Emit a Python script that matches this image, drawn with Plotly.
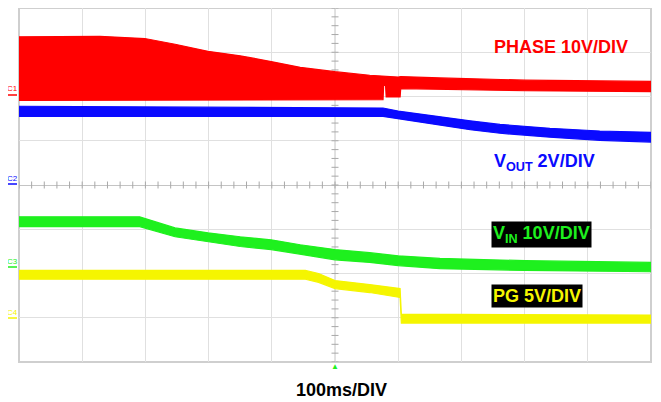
import plotly.graph_objects as go

# time in ms (100 ms/div, 10 div across), amplitude in screen divisions (-4..4)
phase_t_top = [0, 128, 199, 247, 299, 350, 399, 445, 500, 555, 600, 604, 666, 801, 1000]
phase_top = [3.35, 3.36, 3.31, 3.18, 3.02, 2.92, 2.79, 2.66, 2.56, 2.48, 2.44, 2.45, 2.42, 2.37, 2.34]
phase_t_bot = [0, 576, 577, 580, 581, 603, 604, 666, 801, 1000]
phase_bot = [1.91, 1.93, 2.25, 2.25, 1.99, 1.99, 2.18, 2.16, 2.13, 2.11]

vout_t = [0, 540, 576, 600, 634, 666, 714, 761, 840, 919, 1000]
vout_top = [1.78, 1.74, 1.74, 1.67, 1.60, 1.55, 1.45, 1.37, 1.28, 1.22, 1.19]
vout_bot = [1.55, 1.55, 1.55, 1.49, 1.42, 1.35, 1.25, 1.17, 1.08, 1.01, 0.97]

vin_t = [0, 191, 247, 299, 350, 399, 445, 500, 555, 600, 666, 801, 1000]
vin_top = [-0.72, -0.72, -0.97, -1.08, -1.17, -1.24, -1.35, -1.46, -1.53, -1.60, -1.66, -1.71, -1.75]
vin_bot = [-0.94, -0.94, -1.17, -1.28, -1.39, -1.46, -1.56, -1.69, -1.75, -1.82, -1.89, -1.93, -1.96]

pg_t = [0, 453, 474, 500, 555, 603, 605, 1000]
pg_top = [-1.93, -1.93, -2.00, -2.16, -2.25, -2.34, -2.92, -2.94]
pg_bot = [-2.13, -2.13, -2.20, -2.34, -2.43, -2.54, -3.12, -3.12]

RED = '#ff0000'
BLUE = '#0a0aff'
GREEN = '#1ef01e'
YELLOW = '#f5f500'

# the page body adds an 8px offset, so the figure is drawn 8px smaller
# plot area on screen: x 19..651, y 8..362
def px(p):
    return (p - 19) / 632.0

def py(p):
    return (362 - p) / 354.0


def band(t_top, top, t_bot, bot, color, name):
    return go.Scatter(
        x=list(t_top) + list(t_bot)[::-1],
        y=list(top) + list(bot)[::-1],
        fill='toself', fillcolor=color, mode='lines',
        line=dict(color=color, width=1.2), name=name,
        hoverinfo='skip', showlegend=False)


fig = go.Figure()

# minor ticks on the centre cross
fig.add_trace(go.Scatter(
    x=[i * 20 for i in range(51)], y=[0] * 51, mode='markers',
    marker=dict(symbol='line-ns', size=5, line=dict(color='#a8a8a8', width=1)),
    hoverinfo='skip', showlegend=False))
fig.add_trace(go.Scatter(
    x=[500] * 41, y=[-4 + i * 0.2 for i in range(41)], mode='markers',
    marker=dict(symbol='line-ew', size=5, line=dict(color='#a8a8a8', width=1)),
    hoverinfo='skip', showlegend=False))

fig.add_trace(band(phase_t_top, phase_top, phase_t_bot, phase_bot, RED, 'PHASE'))
fig.add_trace(band(vout_t, vout_top, vout_t, vout_bot, BLUE, 'VOUT'))
fig.add_trace(band(vin_t, vin_top, vin_t, vin_bot, GREEN, 'VIN'))
fig.add_trace(band(pg_t, pg_top, pg_t, pg_bot, YELLOW, 'PG'))

shapes = [dict(type='rect', xref='paper', yref='paper', x0=0, x1=1, y0=0, y1=1,
               line=dict(color='#cfcfcf', width=2), layer='below')]

FONT = 'Liberation Sans, Arial'
annotations = [
    dict(x=px(492), y=py(47), text='<b>PHASE 10V/DIV</b>', font=dict(color=RED, size=18)),
    dict(x=px(492), y=py(162), text='<b>V<sub>OUT</sub> 2V/DIV</b>', font=dict(color=BLUE, size=18)),
    dict(x=px(491), y=py(234), text='<b>V<sub>IN</sub> 10V/DIV</b>', font=dict(color=GREEN, size=18),
         bgcolor='black'),
    dict(x=px(491), y=py(296), text='<b>PG 5V/DIV</b>', font=dict(color=YELLOW, size=18),
         bgcolor='black'),
]
for a in annotations:
    a.update(xanchor='left', borderpad=1, font=dict(a['font'], family=FONT))

annotations.append(dict(x=px(342), y=py(390), text='<b>100ms/DIV</b>',
                        font=dict(color='black', size=18, family=FONT)))

# channel ground markers on the left edge
for label, color, ty, uy in [('C1', RED, 89, 95), ('C2', BLUE, 178, 184),
                             ('C3', GREEN, 261, 267), ('C4', YELLOW, 312, 318)]:
    annotations.append(dict(x=px(12), y=py(ty), text=label,
                            font=dict(color=color, size=8, family=FONT)))
    shapes.append(dict(type='line', xref='paper', yref='paper', x0=px(6), x1=px(17),
                       y0=py(uy), y1=py(uy), line=dict(color=color, width=1.5)))

# trigger markers
annotations.append(dict(x=px(335), y=py(366), text='\u25b2', font=dict(color=GREEN, size=8)))
annotations.append(dict(x=px(656), y=py(253), text='\u25c0', font=dict(color=GREEN, size=7)))

for a in annotations:
    a.setdefault('xanchor', 'center')
    a.update(xref='paper', yref='paper', yanchor='middle', showarrow=False)

fig.update_layout(
    width=653, height=394,
    margin=dict(l=11, r=10, t=0, b=40, autoexpand=False),
    paper_bgcolor='white', plot_bgcolor='white',
    shapes=shapes, annotations=annotations,
    xaxis=dict(range=[0, 1000], dtick=100, showgrid=True, gridcolor='#e0e0e0', gridwidth=1,
               zeroline=False, showticklabels=False, ticks='', fixedrange=True),
    yaxis=dict(range=[-4, 4], dtick=1, showgrid=True, gridcolor='#e0e0e0', gridwidth=1,
               zeroline=True, zerolinecolor='#c4c4c4', zerolinewidth=1,
               showticklabels=False, ticks='', fixedrange=True),
)
fig.add_vline(x=500, line=dict(color='#c4c4c4', width=1), layer='below')

fig.write_html("out.html")
